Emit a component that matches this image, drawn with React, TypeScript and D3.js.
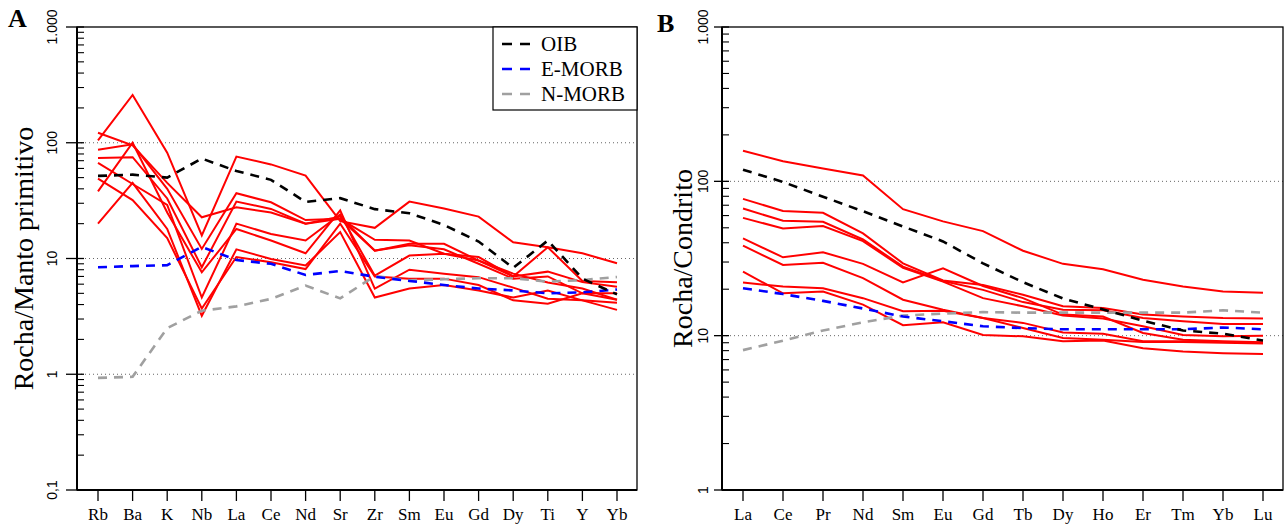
import * as d3 from "d3";

// ---- Panel A: primitive-mantle normalised spider diagram
const elementsA = ["Rb", "Ba", "K", "Nb", "La", "Ce", "Nd", "Sr", "Zr", "Sm", "Eu", "Gd", "Dy", "Ti", "Y", "Yb"];
const oibA = [51.7, 53, 50, 73, 57, 47.8, 30.8, 33.2, 26.7, 24.6, 19.5, 14, 8.3, 14.3, 6.7, 4.9];
const emorbA = [8.4, 8.6, 8.75, 12.6, 9.7, 9.0, 7.2, 7.8, 6.95, 6.4, 5.9, 5.5, 5.3, 5.0, 5.1, 5.4];
const nmorbA = [0.93, 0.95, 2.5, 3.54, 3.86, 4.48, 5.84, 4.52, 7.05, 6.48, 6.62, 6.76, 6.75, 6.31, 6.51, 6.92];
const samplesA = [
  [105, 259, 82, 15.8, 76, 65, 52, 21, 18.4, 31, 27, 23, 13.8, 12.5, 11.1, 9.1],
  [122, 95, 45, 22.7, 27.7, 25, 20, 22, 11.7, 13.4, 13.4, 9.6, 7.0, 7.7, 6.25, 5.7],
  [87, 97, 40, 12.1, 36.6, 30.6, 21.5, 22, 14.5, 14.3, 11, 10.3, 7.0, 12.5, 6.4, 6.25],
  [74, 75, 33, 8.4, 31, 26.8, 20, 23, 11.7, 13, 12, 9.0, 6.7, 7.0, 5.0, 5.0],
  [67, 44, 29, 4.6, 20, 16.3, 14.3, 24, 7.1, 10.6, 11, 9.6, 7.4, 6.2, 5.5, 4.4],
  [38, 100, 25, 7.6, 18, 14.3, 11.1, 26, 5.5, 8.0, 7.4, 6.9, 5.6, 4.5, 4.35, 4.15],
  [20, 45, 18, 3.2, 12, 9.9, 8.7, 16.9, 4.6, 5.5, 5.9, 5.3, 4.6, 5.3, 4.35, 3.6],
  [49, 32, 15, 3.7, 10.3, 9.3, 8.1, 20, 7.0, 6.7, 6.7, 5.9, 4.35, 4.06, 5.0, 4.4],
];
const ticksA = [0.1, 1, 10, 100, 1000];
const tickLabelsA = ["0,1", "1", "10", "100", "1.000"];

// ---- Panel B: chondrite normalised REE
const elementsB = ["La", "Ce", "Pr", "Nd", "Sm", "Eu", "Gd", "Tb", "Dy", "Ho", "Er", "Tm", "Yb", "Lu"];
const oibB = [119, 99, 79.5, 64, 51, 40.8, 29.4, 22.2, 17.4, 14.8, 12.5, 10.8, 10.3, 9.3];
const emorbB = [20.3, 18.6, 16.8, 15, 13.3, 12.4, 11.5, 11.2, 11.0, 11.0, 11.0, 11.0, 11.3, 11.0];
const nmorbB = [8.06, 9.28, 10.8, 12.2, 13.5, 13.9, 14.2, 14.1, 14.1, 14.1, 14.1, 14.1, 14.6, 14.1];
const samplesB = [
  [158, 135, 121, 109, 66, 55, 47.6, 35.5, 29.2, 26.9, 23, 20.8, 19.3, 19],
  [77, 64.3, 62.5, 46, 29.4, 22.8, 21.3, 18.4, 15.5, 15.1, 13.7, 13.3, 13, 12.9],
  [66.7, 55.5, 54.7, 42, 28, 22.6, 19.8, 16.5, 14.7, 14.6, 13.0, 12.4, 11.9, 11.9],
  [58, 49.5, 51.3, 41, 27.5, 22.4, 17.5, 15.5, 13.5, 12.9, 11.5, 10.1, 9.9, 10],
  [42.7, 32.2, 34.7, 29.2, 22.1, 27.3, 21, 17.5, 13.7, 13.3, 10.4, 9.4, 9.2, 9.06],
  [38.3, 28.7, 29.7, 23.6, 17.1, 14.7, 13, 12.1, 10.5, 10.3, 9.2, 9.2, 9.1, 9.0],
  [26, 18.8, 19.3, 15.9, 11.7, 12.2, 10.1, 9.9, 9.2, 9.3, 8.3, 7.9, 7.7, 7.6],
  [22.1, 20.8, 20.3, 17.5, 14.4, 14.5, 13, 11.2, 9.67, 9.4, 9.1, 9.1, 9.0, 8.9],
];
const ticksB = [1, 10, 100, 1000];
const tickLabelsB = ["1", "10", "100", "1.000"];

const refNames = ["OIB", "E-MORB", "N-MORB"];
const refColors = ["#000000", "#0000ff", "#a0a0a0"];

const SERIF = "'Liberation Serif', 'Times New Roman', serif";
const SANS = "'Liberation Sans', Arial, sans-serif";

type PanelProps = {
  elements: string[];
  samples: number[][];
  refs: number[][];
  ticks: number[];
  tickLabels: string[];
  grid: number[];
  left: number;
  right: number;
  top: number;
  bottom: number;
  majorOut: number;
  labelX: number;
  title: string;
  titleX: number;
  letter: string;
  letterX: number;
  letterY: number;
  legend?: boolean;
};

function Panel(p: PanelProps) {
  const x = d3
    .scalePoint<string>()
    .domain(p.elements)
    .range([p.left + 21, p.right - 20]);
  const y = d3
    .scaleLog()
    .domain([p.ticks[0], p.ticks[p.ticks.length - 1]])
    .range([p.bottom, p.top]);

  const line = d3
    .line<number>()
    .x((_, i) => x(p.elements[i]) ?? 0)
    .y((v) => y(v));

  const minors: number[] = [];
  p.ticks.slice(0, -1).forEach((t) => {
    for (let k = 2; k <= 9; k++) minors.push(t * k);
  });

  const midY = (p.top + p.bottom) / 2;

  return (
    <g>
      {p.grid.map((g) => (
        <line
          key={"g" + g}
          x1={p.left}
          x2={p.right}
          y1={y(g)}
          y2={y(g)}
          stroke="#666"
          strokeWidth={1}
          strokeDasharray="1,3"
        />
      ))}

      {p.samples.map((s, i) => (
        <path key={"s" + i} d={line(s) ?? ""} fill="none" stroke="#ff0000" strokeWidth={2} />
      ))}

      {[2, 1, 0].map((i) => (
        <path
          key={"r" + i}
          d={line(p.refs[i]) ?? ""}
          fill="none"
          stroke={refColors[i]}
          strokeWidth={2.6}
          strokeDasharray="9,7"
        />
      ))}

      {/* frame */}
      <rect x={p.left} y={p.top} width={p.right - p.left} height={p.bottom - p.top} fill="none" stroke="#000" strokeWidth={1.3} />
      <line x1={p.left} x2={p.left} y1={p.top} y2={p.bottom} stroke="#000" strokeWidth={2} />
      <line x1={p.left} x2={p.right} y1={p.bottom} y2={p.bottom} stroke="#000" strokeWidth={2} />

      {/* y ticks */}
      {p.ticks.map((t, i) => (
        <g key={"t" + t}>
          <line x1={p.left - p.majorOut} x2={p.left + 7} y1={y(t)} y2={y(t)} stroke="#000" strokeWidth={1.3} />
          <text
            transform={`translate(${p.labelX},${y(t)}) rotate(-90)`}
            textAnchor="middle"
            fontFamily={SANS}
            fontSize={14}
            fill="#000"
          >
            {p.tickLabels[i]}
          </text>
        </g>
      ))}
      {minors.map((m) => (
        <line key={"m" + m} x1={p.left} x2={p.left + 7} y1={y(m)} y2={y(m)} stroke="#000" strokeWidth={1.1} />
      ))}

      {/* x ticks */}
      {p.elements.map((e) => (
        <g key={"x" + e}>
          <line x1={x(e)} x2={x(e)} y1={p.bottom} y2={p.bottom + 11} stroke="#000" strokeWidth={1.3} />
          <text x={x(e)} y={p.bottom + 30} textAnchor="middle" fontFamily={SERIF} fontSize={17} fill="#000">
            {e}
          </text>
        </g>
      ))}

      <text
        transform={`translate(${p.titleX},${midY}) rotate(-90)`}
        textAnchor="middle"
        fontFamily={SERIF}
        fontSize={28}
        fill="#000"
      >
        {p.title}
      </text>
      <text x={p.letterX} y={p.letterY} fontFamily={SERIF} fontSize={26} fontWeight="bold" fill="#000">
        {p.letter}
      </text>

      {p.legend && (
        <g>
          <rect x={493} y={p.top} width={p.right - 493} height={83} fill="#fff" stroke="#000" strokeWidth={1.2} />
          {refNames.map((n, i) => (
            <g key={n} transform={`translate(0,${44 + i * 25})`}>
              <line x1={502} x2={530} y1={0} y2={0} stroke={refColors[i]} strokeWidth={2.6} strokeDasharray="10,8" />
              <text x={541} y={7} fontFamily={SERIF} fontSize={21} fill="#000">
                {n}
              </text>
            </g>
          ))}
        </g>
      )}
    </g>
  );
}

export default function App() {
  return (
    <svg
      width={1286}
      height={527}
      style={{ position: "absolute", left: 0, top: 0, background: "#fff" }}
    >
      <rect width={1286} height={527} fill="#fff" />
      <Panel
        elements={elementsA}
        samples={samplesA}
        refs={[oibA, emorbA, nmorbA]}
        ticks={ticksA}
        tickLabels={tickLabelsA}
        grid={[1, 10, 100]}
        left={77}
        right={637}
        top={27}
        bottom={490}
        majorOut={11}
        labelX={57}
        title="Rocha/Manto primitivo"
        titleX={33}
        letter="A"
        letterX={8}
        letterY={27}
        legend
      />
      <Panel
        elements={elementsB}
        samples={samplesB}
        refs={[oibB, emorbB, nmorbB]}
        ticks={ticksB}
        tickLabels={tickLabelsB}
        grid={[10, 100]}
        left={722}
        right={1283}
        top={27}
        bottom={490}
        majorOut={8}
        labelX={708}
        title="Rocha/Condrito"
        titleX={692}
        letter="B"
        letterX={657}
        letterY={32}
      />
    </svg>
  );
}
